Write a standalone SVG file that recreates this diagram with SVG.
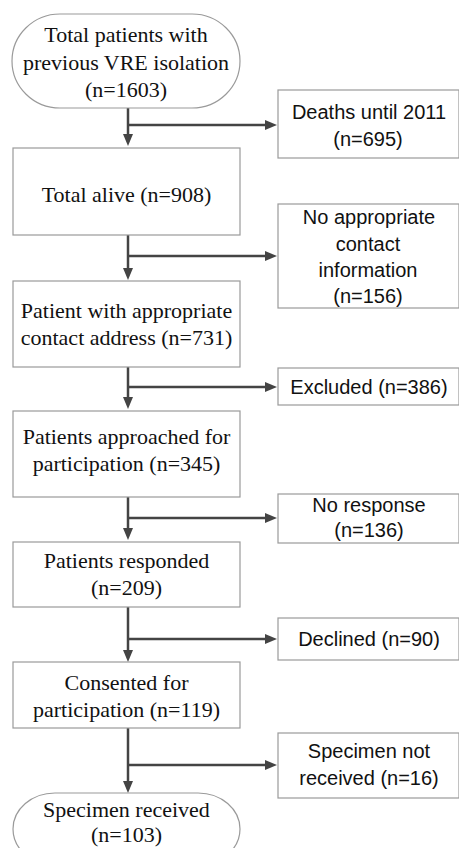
<svg xmlns="http://www.w3.org/2000/svg" width="459" height="848" viewBox="0 0 459 848">
<style>
.box{fill:#fff;stroke:#9a9a9a;stroke-width:1.2}
.ser{font-family:"Liberation Serif","Times New Roman",serif;font-size:22px;fill:#111;text-anchor:middle}
.san{font-family:"Liberation Sans",Arial,sans-serif;font-size:20px;fill:#111;text-anchor:middle}
.con line{stroke:#444;stroke-width:2.5;fill:none}
.arr{marker-end:url(#ah)}
</style>
<defs>
<marker id="ah" viewBox="0 0 12 10" refX="4" refY="5" markerWidth="12" markerHeight="10" orient="auto" markerUnits="userSpaceOnUse">
<path d="M0,0 L12,5 L0,10 z" fill="#444"/>
</marker>
</defs>
<rect width="459" height="848" fill="#fff"/>
<g class="con">
<line class="arr" x1="128" y1="108" x2="128" y2="138"/>
<line class="arr" x1="128" y1="125" x2="269" y2="125"/>
<line class="arr" x1="128" y1="235" x2="128" y2="272"/>
<line class="arr" x1="128" y1="256" x2="269" y2="256"/>
<line class="arr" x1="128" y1="367" x2="128" y2="401"/>
<line class="arr" x1="128" y1="387" x2="269" y2="387"/>
<line class="arr" x1="128" y1="497" x2="128" y2="532"/>
<line class="arr" x1="128" y1="518" x2="269" y2="518"/>
<line class="arr" x1="128" y1="607" x2="128" y2="654"/>
<line class="arr" x1="128" y1="639" x2="269" y2="639"/>
<line class="arr" x1="128" y1="728" x2="128" y2="785"/>
<line class="arr" x1="128" y1="765" x2="269" y2="765"/>
</g>
<g id="n1">
<rect class="box" x="12" y="14" width="228" height="94" rx="48" ry="47"/>
<text class="ser" x="126" y="42">Total patients with</text>
<text class="ser" x="126" y="70">previous VRE isolation</text>
<text class="ser" x="126" y="97">(n=1603)</text>
</g>
<g id="n2">
<rect class="box" x="13" y="148" width="227" height="87"/>
<text class="ser" x="126.5" y="202">Total alive (n=908)</text>
</g>
<g id="n3">
<rect class="box" x="13" y="281" width="227" height="86"/>
<text class="ser" x="126.5" y="318">Patient with appropriate</text>
<text class="ser" x="126.5" y="345">contact address (n=731)</text>
</g>
<g id="n4">
<rect class="box" x="13" y="411" width="227" height="86"/>
<text class="ser" x="126.5" y="444">Patients approached for</text>
<text class="ser" x="126.5" y="471">participation (n=345)</text>
</g>
<g id="n5">
<rect class="box" x="13" y="542" width="227" height="65"/>
<text class="ser" x="126.5" y="568">Patients responded</text>
<text class="ser" x="126.5" y="595">(n=209)</text>
</g>
<g id="n6">
<rect class="box" x="13" y="662" width="227" height="66"/>
<text class="ser" x="126.5" y="690">Consented for</text>
<text class="ser" x="126.5" y="717">participation (n=119)</text>
</g>
<g id="n7">
<rect class="box" x="13" y="793" width="227" height="72" rx="42" ry="36"/>
<text class="ser" x="126.5" y="817">Specimen received</text>
<text class="ser" x="126.5" y="842">(n=103)</text>
</g>
<g id="e1">
<rect class="box" x="278" y="90" width="181" height="68"/>
<text class="san" x="369" y="119">Deaths until 2011</text>
<text class="san" x="368" y="146">(n=695)</text>
</g>
<g id="e2">
<rect class="box" x="278" y="204" width="181" height="104"/>
<text class="san" x="369" y="224">No appropriate</text>
<text class="san" x="368" y="251">contact</text>
<text class="san" x="368" y="277">information</text>
<text class="san" x="368" y="303">(n=156)</text>
</g>
<g id="e3">
<rect class="box" x="278" y="368" width="181" height="37"/>
<text class="san" x="369" y="394">Excluded (n=386)</text>
</g>
<g id="e4">
<rect class="box" x="278" y="494" width="181" height="49"/>
<text class="san" x="369" y="512">No response</text>
<text class="san" x="369" y="537">(n=136)</text>
</g>
<g id="e5">
<rect class="box" x="278" y="618" width="181" height="42"/>
<text class="san" x="369" y="646">Declined (n=90)</text>
</g>
<g id="e6">
<rect class="box" x="278" y="733" width="181" height="65"/>
<text class="san" x="369" y="758">Specimen not</text>
<text class="san" x="369" y="785">received (n=16)</text>
</g>
</svg>
